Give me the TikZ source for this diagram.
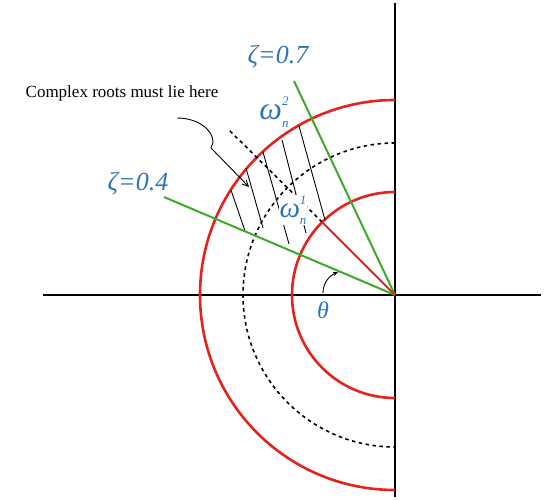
\documentclass[tikz,border=0pt]{standalone}
\usepackage{fontspec}
\setmainfont{Liberation Serif}
\usetikzlibrary{arrows.meta}
\definecolor{rootred}{RGB}{228,35,28}
\definecolor{dampgreen}{RGB}{62,170,42}
\definecolor{labelblue}{RGB}{46,117,182}
\newcommand{\omegalbl}[2]{ω\rlap{\raisebox{1.0ex}{\fontsize{13}{13}\selectfont #1}}\raisebox{-0.5ex}{\fontsize{13}{13}\selectfont #2}}

\begin{document}
\begin{tikzpicture}[
  x=1pt, y=-1pt,
  axis/.style={line width=1.8pt},
  circ/.style={draw=rootred, line width=2.6pt},
  dotcirc/.style={draw=black, line width=1.6pt, dash pattern=on 3.5pt off 3.5pt},
  zline/.style={draw=dampgreen, line width=2pt},
  hatch/.style={draw=black, line width=0.9pt},
  lbl/.style={text=labelblue, font=\fontsize{26}{26}\selectfont\itshape, inner sep=1pt},
  note/.style={font=\fontsize{17}{17}\selectfont, inner sep=1pt},
  arr/.style={-{Stealth[length=5pt,width=4pt]}, line width=0.9pt}
]
\useasboundingbox (0,0) rectangle (551,500);
\coordinate (O) at (395,295);

% axes
\draw[axis] (43,295) -- (541,295);
\draw[axis] (395,3) -- (395,497);

% circles of constant natural frequency
\draw[circ] (395,192) arc[start angle=-90, end angle=-270, radius=103];
\draw[circ] (395,100) arc[start angle=-90, end angle=-270, radius=195];

% hatched region
\foreach \xa/\ya/\xb/\yb in {231/190/245/231, 246/168/263/228, 263/152/289/244, 282/140/306/233, 299/126/325/220}
  \draw[hatch] (\xa,\ya) -- (\xb,\yb);
\coordinate (w1) at (322,222);
\draw[dotcirc] (w1) -- (229,130);

\node[lbl, fill=white, font=\fontsize{29}{29}\selectfont\itshape] (omega1) at (293,210) {\omegalbl{1}{n}};
\draw[dotcirc] (395,143) arc[start angle=-90, end angle=-270, radius=152];

% damping lines
\draw[zline] (O) -- (294,81);
\draw[zline] (O) -- (164,197);
\draw[draw=rootred, line width=1.8pt] (O) -- (w1);

\node[lbl] (zeta07) at (278,57) {ζ=0.7};
\node[lbl] (zeta04) at (138,184) {ζ=0.4};
\node[lbl, font=\fontsize{32}{32}\selectfont\itshape] (omega2) at (274,112) {\omegalbl{2}{n}};
\node[lbl, font=\fontsize{24}{24}\selectfont\itshape] (theta) at (323,310) {θ};
\node[note] (roots) at (122,93) {Complex roots must lie here};

% arrows
\coordinate (rt-tail) at (177,118);
\coordinate (rt-tip) at (249,187);
\draw[-{Straight Barb[length=6pt,width=6pt]}, line width=0.9pt] (rt-tail) .. controls (198,118) and (213,130) .. (213,142) .. controls (213,146) and (210,146) .. (211,148) -- (rt-tip);
\coordinate (th-tail) at (323,293);
\coordinate (th-tip) at (338,272);
\draw[arr] (th-tail) .. controls (323,283) and (329,276) .. (th-tip);
\end{tikzpicture}
\end{document}
